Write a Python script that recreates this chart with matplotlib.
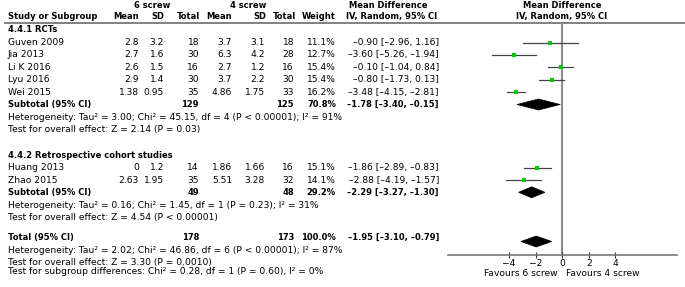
import matplotlib
matplotlib.use("Agg")
import matplotlib.pyplot as plt
from matplotlib.patches import Polygon

plt.rcParams['font.family'] = ['DejaVu Sans']
FS = 6.6
FSB = 6.05

# ---------------- data ----------------
rct_studies = ["Guven 2009", "Jia 2013", "Li K 2016", "Lyu 2016", "Wei 2015"]
rct_mean6 = [2.8, 2.7, 2.6, 2.9, 1.38]
rct_sd6 = [3.2, 1.6, 1.5, 1.4, 0.95]
rct_n6 = [18, 30, 16, 30, 35]
rct_mean4 = [3.7, 6.3, 2.7, 3.7, 4.86]
rct_sd4 = [3.1, 4.2, 1.2, 2.2, 1.75]
rct_n4 = [18, 28, 16, 30, 33]
rct_weight = [11.1, 12.7, 15.4, 15.4, 16.2]
rct_md = [-0.90, -3.60, -0.10, -0.80, -3.48]
rct_lo = [-2.96, -5.26, -1.04, -1.73, -4.15]
rct_hi = [1.16, -1.94, 0.84, 0.13, -2.81]

ret_studies = ["Huang 2013", "Zhao 2015"]
ret_mean6 = [0, 2.63]
ret_sd6 = [1.2, 1.95]
ret_n6 = [14, 35]
ret_mean4 = [1.86, 5.51]
ret_sd4 = [1.66, 3.28]
ret_n4 = [16, 32]
ret_weight = [15.1, 14.1]
ret_md = [-1.86, -2.88]
ret_lo = [-2.89, -4.19]
ret_hi = [-0.83, -1.57]

# pooled: [RCT subtotal, retrospective subtotal, total]
pool_labels = ["Subtotal (95% CI)", "Subtotal (95% CI)", "Total (95% CI)"]
pool_n6 = [129, 49, 178]
pool_n4 = [125, 48, 173]
pool_weight = [70.8, 29.2, 100.0]
pool_md = [-1.78, -2.29, -1.95]
pool_lo = [-3.40, -3.27, -3.10]
pool_hi = [-0.15, -1.30, -0.79]
pool_tau2 = [3.00, 0.16, 2.02]
pool_chi2 = [45.15, 1.45, 46.86]
pool_df = [4, 1, 6]
pool_p = ["P < 0.00001", "P = 0.23", "P < 0.00001"]
pool_i2 = [91, 31, 87]
pool_z = [2.14, 4.54, 3.30]
pool_pz = ["P = 0.03", "P < 0.00001", "P = 0.0010"]
sub_chi2, sub_df, sub_p, sub_i2 = 0.28, 1, "0.60", 0

group_titles = ["4.4.1 RCTs", "4.4.2 Retrospective cohort studies"]
xticks = [-4, -2, 0, 2, 4]
fav_left, fav_right = "Favours 6 screw", "Favours 4 screw"

# ---------------- layout (pixel units) ----------------
W, H = 685, 287
fig = plt.figure(figsize=(W / 100, H / 100), dpi=100)
lay = fig.add_axes([0, 0, 1, 1])
lay.set_xlim(0, W)
lay.set_ylim(H, 0)
lay.axis('off')

X_STUDY = 8
X_M6, X_SD6, X_N6 = 139, 164, 199
X_M4, X_SD4, X_N4 = 232, 265, 294
X_W, X_CI = 336, 439
AX_L, AX_R, AX_TOP, AX_BOT = 447.7, 676.7, 22.5, 255

def t(x, y, s, ha='left', bold=False, **kw):
    lay.text(x, y, s, ha=ha, va='center', fontsize=FSB if bold else FS,
             fontweight='bold' if bold else 'normal', color='black', **kw)

# headers
t(152, 5, "6 screw", ha='center', bold=True)
t(248, 5, "4 screw", ha='center', bold=True)
t(388, 5, "Mean Difference", ha='center', bold=True)
t(562, 5, "Mean Difference", ha='center', bold=True)
y_h = 16.5
t(X_STUDY, y_h, "Study or Subgroup", bold=True)
for x, s in [(X_M6, "Mean"), (X_SD6, "SD"), (X_N6 + 1, "Total"), (X_M4, "Mean"),
             (X_SD4 + 1, "SD"), (X_N4 + 2, "Total"), (X_W, "Weight")]:
    t(x, y_h, s, ha='right', bold=True)
t(392, y_h, "IV, Random, 95% CI", ha='center', bold=True)
t(562, y_h, "IV, Random, 95% CI", ha='center', bold=True)
lay.axhline(AX_TOP, xmin=5 / W, xmax=1, color='#777777', lw=1.3)

# forest axes
fx = fig.add_axes([AX_L / W, 1 - AX_BOT / H, (AX_R - AX_L) / W, (AX_BOT - AX_TOP) / H])
fx.set_xlim(-8.6, 8.6)
fx.set_ylim(AX_BOT, AX_TOP)
fx.patch.set_alpha(0)
for sp in ['top', 'left', 'right']:
    fx.spines[sp].set_visible(False)
fx.spines['bottom'].set_color('#777777')
fx.spines['bottom'].set_linewidth(1.2)
fx.set_yticks([])
fx.set_xticks(xticks)
fx.tick_params(axis='x', direction='inout', length=5, width=0.8, pad=0.5,
               labelsize=FS, colors='#333333', labelcolor='black')
fx.axvline(0, color='#8c8c8c', lw=1.5, zorder=1)

def fmt_ci(m, lo, hi):
    return f"{m:.2f} [{lo:.2f}, {hi:.2f}]".replace("-", "\u2013")

def study_row(y, name, m6, s6, n6, m4, s4, n4, w, md, lo, hi):
    t(X_STUDY, y, name)
    t(X_M6, y, f"{m6:g}", ha='right')
    t(X_SD6, y, f"{s6:g}", ha='right')
    t(X_N6, y, f"{n6}", ha='right')
    t(X_M4, y, f"{m4:g}", ha='right')
    t(X_SD4, y, f"{s4:g}", ha='right')
    t(X_N4, y, f"{n4}", ha='right')
    t(X_W, y, f"{w:.1f}%", ha='right')
    t(X_CI, y, fmt_ci(md, lo, hi), ha='right')
    fx.plot([lo, hi], [y, y], color='#444444', lw=0.9, zorder=2)
    fx.plot([md], [y], marker='s', ls='none', color='#00c800',
            markersize=0.72 * w ** 0.5, markeredgewidth=0, zorder=3)

def pooled_rows(y, i):
    t(X_STUDY, y, pool_labels[i], bold=True)
    t(X_N6, y, f"{pool_n6[i]}", ha='right', bold=True)
    t(X_N4, y, f"{pool_n4[i]}", ha='right', bold=True)
    t(X_W, y, f"{pool_weight[i]:.1f}%", ha='right', bold=True)
    t(X_CI, y, fmt_ci(pool_md[i], pool_lo[i], pool_hi[i]), ha='right', bold=True)
    yd = y + (4 if i == 2 else 0)
    fx.add_patch(Polygon([(pool_lo[i], yd), (pool_md[i], yd - 5.5),
                          (pool_hi[i], yd), (pool_md[i], yd + 5.5)],
                         closed=True, facecolor='black', edgecolor='black', lw=0.5, zorder=3))
    t(X_STUDY, y + 13, f"Heterogeneity: Tau\u00b2 = {pool_tau2[i]:.2f}; Chi\u00b2 = {pool_chi2[i]:.2f}, "
                       f"df = {pool_df[i]} ({pool_p[i]}); I\u00b2 = {pool_i2[i]}%")
    t(X_STUDY, y + 25, f"Test for overall effect: Z = {pool_z[i]:.2f} ({pool_pz[i]})")

# group 1
t(X_STUDY, 29.5, group_titles[0], bold=True)
y0, dy = 42.5, 12.45
for k in range(len(rct_studies)):
    study_row(y0 + k * dy, rct_studies[k], rct_mean6[k], rct_sd6[k], rct_n6[k], rct_mean4[k],
              rct_sd4[k], rct_n4[k], rct_weight[k], rct_md[k], rct_lo[k], rct_hi[k])
pooled_rows(104.5, 0)

# group 2
t(X_STUDY, 155, group_titles[1], bold=True)
y1 = 167.7
for k in range(len(ret_studies)):
    study_row(y1 + k * dy, ret_studies[k], ret_mean6[k], ret_sd6[k], ret_n6[k], ret_mean4[k],
              ret_sd4[k], ret_n4[k], ret_weight[k], ret_md[k], ret_lo[k], ret_hi[k])
pooled_rows(192.3, 1)

# total
pooled_rows(237.5, 2)
t(X_STUDY, 272, f"Test for subgroup differences: Chi\u00b2 = {sub_chi2:.2f}, df = {sub_df} "
                f"(P = {sub_p}), I\u00b2 = {sub_i2}%")

t(558, 273.5, fav_left, ha='right')
t(566, 273.5, fav_right, ha='left')

fig.savefig("out.png", dpi=100)
